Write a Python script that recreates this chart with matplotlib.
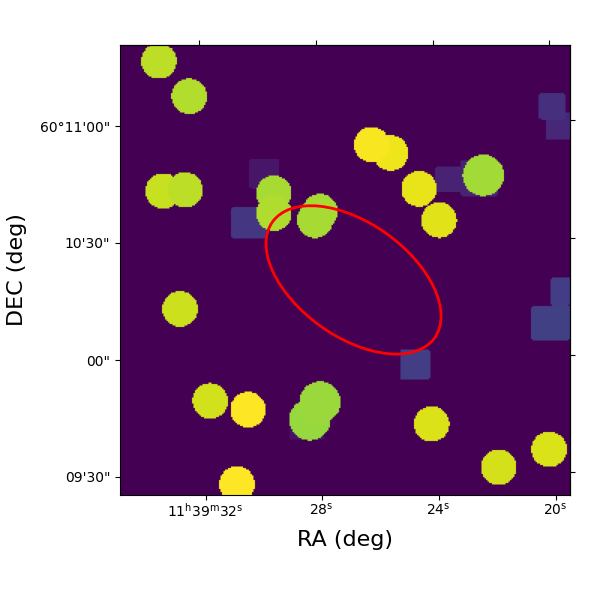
import numpy as np
import matplotlib
matplotlib.use("Agg")
import matplotlib.pyplot as plt
from matplotlib.patches import Ellipse

# axes run from 0 to 200 in both directions, the image itself has finer cells
axis_size = 200
n_cells = 300

# sources (column, row from bottom), values are fractions of the colour range
circle_col = [17.3, 30.8, 19.2, 28.9, 68.4, 68.4, 88.9, 86.7, 120.3, 111.9, 132.9, 141.8, 161.5,
              26.7, 40.1, 56.9, 84.4, 88.9, 52.0, 138.5, 168.4, 190.7]
circle_row = [192.9, 177.2, 135.1, 135.6, 134.1, 125.3, 125.9, 122.2, 152.0, 155.7, 136.1, 122.2, 142.1,
              82.7, 41.8, 37.9, 33.5, 41.3, 4.9, 31.6, 12.3, 20.3]
circle_rad = [7.9, 7.9, 7.9, 7.9, 7.9, 7.9, 7.9, 8.0, 7.9, 7.9, 7.9, 7.9, 9.2,
              7.9, 7.9, 7.9, 9.2, 9.2, 7.9, 7.9, 7.9, 7.9]
circle_val = [0.90, 0.885, 0.915, 0.90, 0.87, 0.88, 0.87, 0.87, 0.975, 0.99, 0.965, 0.955, 0.86,
              0.925, 0.93, 1.0, 0.845, 0.85, 1.0, 0.947, 0.937, 0.943]

# squares: left, right, bottom, top edge
square_left = [57.5, 49.6, 140.3, 151.4, 189.2, 185.9, 75.3, 124.4, 182.8, 191.4]
square_right = [70.8, 65.2, 152.0, 167.9, 200.0, 198.2, 91.0, 137.8, 200.0, 200.0]
square_bot = [136.3, 114.1, 134.7, 132.6, 157.8, 167.0, 24.4, 51.4, 68.6, 84.1]
square_top = [149.6, 128.1, 146.2, 148.9, 170.1, 178.5, 34.2, 64.8, 84.1, 96.8]
square_val = [0.06, 0.16, 0.10, 0.10, 0.11, 0.14, 0.05, 0.18, 0.19, 0.18]
corner_rad = 1.3

# red region
region_center = (103.8, 95.6)
region_width = 88.6
region_height = 50.5
region_angle = -35.6

# tick positions, they differ a little per side
xtick_bottom = [38.1, 89.6, 141.6, 193.6]
xtick_top = [35.1, 87.1, 139.1, 190.7]
ytick_left = [8.0, 60.0, 112.0, 164.0]
ytick_right = [10.2, 62.2, 114.2, 166.7]
xtick_labels = [r"11$^{\mathrm{h}}$39$^{\mathrm{m}}$32$^{\mathrm{s}}$",
                r"28$^{\mathrm{s}}$", r"24$^{\mathrm{s}}$", r"20$^{\mathrm{s}}$"]
ytick_labels = ["09'30\"", "00\"", "10'30\"", "60°11'00\""]


def build_image():
    centers = (np.arange(n_cells) + 0.5) * axis_size / n_cells
    cols, rows = np.meshgrid(centers, centers)
    img = np.zeros((n_cells, n_cells))

    for l, r, b, t, v in zip(square_left, square_right, square_bot, square_top, square_val):
        mask = (cols >= l) & (cols < r) & (rows >= b) & (rows < t)
        # rounded corners
        dx = corner_rad - np.minimum(cols - l, r - cols)
        dy = corner_rad - np.minimum(rows - b, t - rows)
        mask &= ~((dx > 0) & (dy > 0) & (dx ** 2 + dy ** 2 > corner_rad ** 2))
        img[mask] = v

    for c, r, rad, v in zip(circle_col, circle_row, circle_rad, circle_val):
        img[(cols - c) ** 2 + (rows - r) ** 2 <= rad ** 2] = v

    return img


fig = plt.figure(figsize=(6, 6), dpi=100)
ax = fig.add_axes([0.2, 0.175, 0.75, 0.75])

ax.imshow(build_image(), origin="lower", cmap="viridis", vmin=0, vmax=1,
          extent=[0, axis_size, 0, axis_size])
ax.add_patch(Ellipse(region_center, region_width, region_height, angle=region_angle,
                     fill=False, edgecolor="red", linewidth=2))
ax.set_xlim(0, axis_size)
ax.set_ylim(0, axis_size)

ax.set_xticks(xtick_bottom)
ax.set_xticklabels(xtick_labels)
ax.set_yticks(ytick_left)
ax.set_yticklabels(ytick_labels)
ax.tick_params(axis="x", pad=1.5)
ax.set_xlabel("RA (deg)", fontsize=16, labelpad=7)
ax.set_ylabel("DEC (deg)", fontsize=16, labelpad=9.5)

top = ax.secondary_xaxis("top")
top.set_xticks(xtick_top)
top.set_xticklabels([])
right = ax.secondary_yaxis("right")
right.set_yticks(ytick_right)
right.set_yticklabels([])

fig.savefig("out.png", dpi=100)
